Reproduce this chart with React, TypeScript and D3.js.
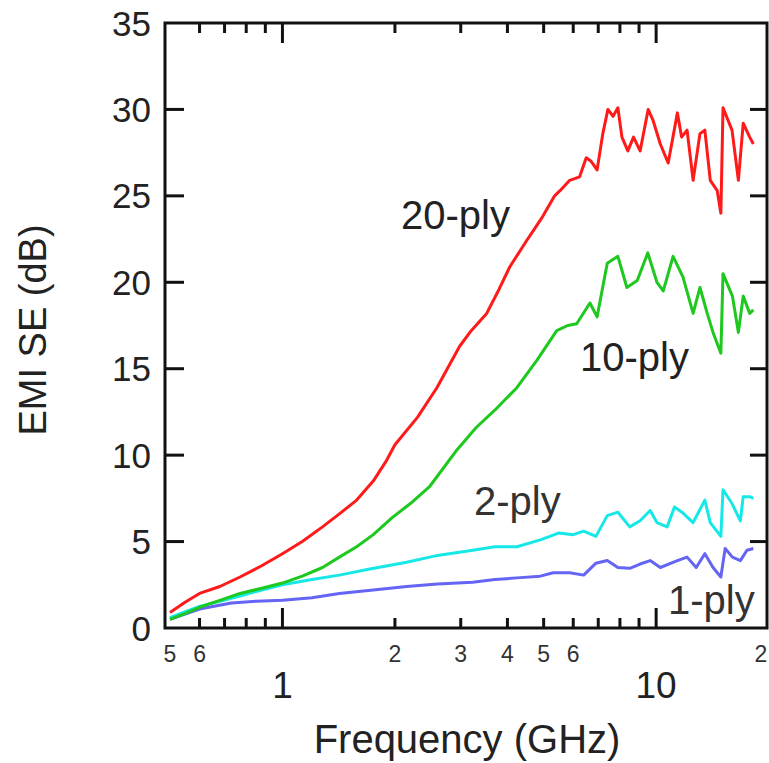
import React from "react";
import * as d3 from "d3";

// 20-ply
const redFreq = [0.5, 0.55, 0.6, 0.68, 0.77, 0.88, 1.0, 1.13, 1.28, 1.42, 1.58, 1.75, 1.9, 2.0, 2.3, 2.59, 2.98, 3.2, 3.52, 3.8, 4.06, 4.5, 4.97, 5.35, 5.53, 5.87, 6.24, 6.5, 6.7, 6.95, 7.2, 7.43, 7.67, 7.9, 8.1, 8.4, 8.7, 9.06, 9.52, 9.8, 10.26, 10.77, 11.4, 11.7, 12.1, 12.56, 13.1, 13.5, 13.96, 14.57, 14.9, 15.1, 15.96, 16.6, 17.1, 17.8, 18.2];
const redSE = [0.9, 1.5, 2.0, 2.4, 2.95, 3.6, 4.3, 5.0, 5.85, 6.6, 7.4, 8.5, 9.7, 10.6, 12.2, 13.9, 16.3, 17.2, 18.2, 19.6, 20.9, 22.4, 23.8, 25.0, 25.3, 25.9, 26.1, 27.2, 27.0, 26.5, 28.6, 30.0, 29.6, 30.1, 28.4, 27.6, 28.4, 27.6, 30.0, 29.4, 28.0, 26.9, 29.8, 28.4, 28.8, 25.9, 28.6, 28.8, 25.9, 25.3, 24.0, 30.1, 28.8, 25.9, 29.2, 28.4, 28.0];

// 10-ply
const greenFreq = [0.5, 0.55, 0.6, 0.68, 0.77, 0.88, 1.0, 1.13, 1.28, 1.42, 1.58, 1.75, 1.97, 2.2, 2.48, 2.93, 3.3, 3.7, 4.24, 4.8, 5.42, 5.8, 6.13, 6.65, 6.95, 7.4, 7.9, 8.35, 8.9, 9.5, 10.05, 10.45, 11.1, 11.8, 12.56, 13.1, 13.7, 14.2, 14.9, 15.1, 16.0, 16.6, 17.1, 17.8, 18.2];
const greenSE = [0.5, 0.85, 1.2, 1.6, 2.0, 2.3, 2.6, 3.0, 3.5, 4.1, 4.7, 5.4, 6.4, 7.2, 8.2, 10.3, 11.6, 12.6, 13.9, 15.5, 17.2, 17.5, 17.6, 18.8, 18.0, 21.1, 21.5, 19.7, 20.1, 21.7, 20.0, 19.5, 21.5, 20.3, 18.2, 19.7, 18.2, 17.1, 15.9, 20.5, 19.2, 17.1, 19.2, 18.2, 18.4];

// 2-ply
const cyanFreq = [0.5, 0.55, 0.6, 0.68, 0.77, 0.88, 1.0, 1.2, 1.42, 1.7, 2.15, 2.6, 3.23, 3.7, 4.24, 4.9, 5.5, 6.0, 6.4, 6.9, 7.4, 7.9, 8.5, 9.06, 9.64, 10.05, 10.7, 11.2, 11.8, 12.56, 13.5, 13.96, 14.9, 15.1, 15.96, 16.8, 17.1, 17.8, 18.2];
const cyanSE = [0.6, 0.95, 1.25, 1.55, 1.85, 2.2, 2.5, 2.8, 3.06, 3.4, 3.8, 4.2, 4.5, 4.7, 4.7, 5.1, 5.5, 5.4, 5.6, 5.3, 6.5, 6.7, 5.85, 6.2, 6.8, 6.1, 5.85, 7.0, 6.65, 6.1, 7.4, 6.1, 5.3, 8.0, 7.2, 6.2, 7.6, 7.6, 7.5];

// 1-ply
const blueFreq = [0.5, 0.6, 0.73, 0.85, 1.0, 1.2, 1.42, 1.75, 2.15, 2.6, 3.23, 3.7, 4.24, 4.9, 5.3, 5.87, 6.4, 6.9, 7.4, 7.9, 8.5, 9.06, 9.64, 10.26, 10.8, 11.4, 12.1, 12.8, 13.5, 14.2, 14.9, 15.3, 16.0, 16.8, 17.5, 18.2];
const blueSE = [0.5, 1.1, 1.45, 1.55, 1.6, 1.75, 2.0, 2.2, 2.4, 2.55, 2.65, 2.8, 2.9, 3.0, 3.2, 3.2, 3.06, 3.75, 3.9, 3.5, 3.45, 3.7, 3.9, 3.5, 3.7, 3.9, 4.1, 3.5, 4.3, 3.5, 2.95, 4.6, 4.1, 3.9, 4.5, 4.6];

const yTicks = [0, 5, 10, 15, 20, 25, 30, 35];
const xMajor = [1, 10];
const xMinor = [0.6, 0.7, 0.8, 0.9, 2, 3, 4, 5, 6, 7, 8, 9];
const minorLabelValues = [0.5, 0.6, 2, 3, 4, 5, 6, 20];
const minorLabelText = ["5", "6", "2", "3", "4", "5", "6", "2"];

const seriesNames = ["20-ply", "10-ply", "2-ply", "1-ply"];

const FONT = "'Liberation Sans', Arial, sans-serif";

const App = () => {
  const left = 165, right = 767, top = 23, bottom = 628;

  const x = d3.scaleLog().domain([0.485, 19.8]).range([left, right]);
  const y = d3.scaleLinear().domain([0, 35]).range([bottom, top]);

  const line = d3
    .line<[number, number]>()
    .x((d) => x(d[0]))
    .y((d) => y(d[1]));

  const series = [
    { name: seriesNames[3], f: blueFreq, v: blueSE, color: "#6464f5" },
    { name: seriesNames[2], f: cyanFreq, v: cyanSE, color: "#16e8e8" },
    { name: seriesNames[1], f: greenFreq, v: greenSE, color: "#1ec81e" },
    { name: seriesNames[0], f: redFreq, v: redSE, color: "#ff1a1a" },
  ];

  return (
    <svg
      width={769}
      height={763}
      style={{ position: "absolute", left: 0, top: 0, background: "#fff" }}
      fontFamily={FONT}
    >
      <rect width={769} height={763} fill="#fff" />

      {series.map((s) => (
        <path
          key={s.name}
          d={line(s.f.map((f, i) => [f, s.v[i]]) as [number, number][]) || ""}
          fill="none"
          stroke={s.color}
          strokeWidth={3}
          strokeLinejoin="round"
        />
      ))}

      {/* frame */}
      <rect
        x={left}
        y={top}
        width={right - left}
        height={bottom - top}
        fill="none"
        stroke="#111"
        strokeWidth={3}
      />

      {/* y ticks */}
      {yTicks.map((t) => (
        <g key={"y" + t}>
          {t > 0 && t < 35 && (
            <>
              <line x1={left} x2={left + 19} y1={y(t)} y2={y(t)} stroke="#111" strokeWidth={3} />
              <line x1={right - 17} x2={right} y1={y(t)} y2={y(t)} stroke="#111" strokeWidth={3} />
            </>
          )}
          <text
            x={151}
            y={y(t)}
            textAnchor="end"
            dominantBaseline="central"
            fontSize={35}
            fill="#222"
          >
            {t}
          </text>
        </g>
      ))}

      {/* x major ticks */}
      {xMajor.map((t) => (
        <g key={"xM" + t}>
          <line x1={x(t)} x2={x(t)} y1={bottom} y2={bottom - 20} stroke="#111" strokeWidth={3} />
          <line x1={x(t)} x2={x(t)} y1={top} y2={top + 20} stroke="#111" strokeWidth={3} />
          <text x={x(t)} y={698} textAnchor="middle" fontSize={37} fill="#222">
            {t}
          </text>
        </g>
      ))}

      {/* x minor ticks */}
      {xMinor.map((t) => (
        <g key={"xm" + t}>
          <line x1={x(t)} x2={x(t)} y1={bottom} y2={bottom - 10} stroke="#111" strokeWidth={3} />
          <line x1={x(t)} x2={x(t)} y1={top} y2={top + 10} stroke="#111" strokeWidth={3} />
        </g>
      ))}

      {minorLabelValues.map((t, i) => (
        <text
          key={"ml" + i}
          x={Math.min(x(t), 761)}
          y={662}
          textAnchor="middle"
          fontSize={23}
          fill="#333"
        >
          {minorLabelText[i]}
        </text>
      ))}

      {/* series labels */}
      <text x={401} y={229} fontSize={40} fill="#222">{seriesNames[0]}</text>
      <text x={580} y={371} fontSize={40} fill="#222">{seriesNames[1]}</text>
      <text x={474} y={515} fontSize={40} fill="#333">{seriesNames[2]}</text>
      <text x={668} y={614} fontSize={40} fill="#333">{seriesNames[3]}</text>

      {/* axis titles */}
      <text x={467} y={753} textAnchor="middle" fontSize={40} fill="#222">
        Frequency (GHz)
      </text>
      <text
        transform="translate(46,330) rotate(-90)"
        textAnchor="middle"
        fontSize={38}
        fill="#222"
      >
        EMI SE (dB)
      </text>
    </svg>
  );
};

export default App;
